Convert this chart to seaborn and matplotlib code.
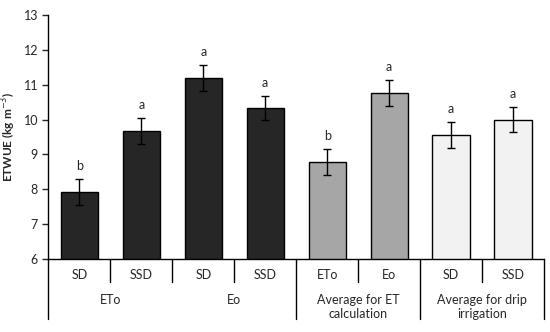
import numpy as np
import pandas as pd
import seaborn as sns
import matplotlib.pyplot as plt
import matplotlib.transforms as mtransforms

# values
keys = ["ETo-SD", "ETo-SSD", "Eo-SD", "Eo-SSD", "avgET-ETo", "avgET-Eo", "avgDI-SD", "avgDI-SSD"]
sub_labels = ["SD", "SSD", "SD", "SSD", "ETo", "Eo", "SD", "SSD"]
etwue = [7.93, 9.67, 11.20, 10.33, 8.78, 10.76, 9.56, 10.00]
err = [0.37, 0.37, 0.37, 0.35, 0.37, 0.37, 0.37, 0.37]
letters = ["b", "a", "a", "a", "b", "a", "a", "a"]
colors = ["#262626"] * 4 + ["#a6a6a6"] * 2 + ["#f2f2f2"] * 2
groups = ["ETo", "Eo", "Average for ET\ncalculation", "Average for drip\nirrigation"]
group_centres = [0.5, 2.5, 4.5, 6.5]

df = pd.DataFrame({"key": keys, "ETWUE": etwue})

sns.set_style("ticks")
plt.rcParams["font.family"] = ["Lato", "DejaVu Sans"]

fig, ax = plt.subplots(figsize=(5.5, 3.32), dpi=100)
fig.subplots_adjust(left=0.088, right=0.989, bottom=0.22, top=0.955)

sns.barplot(data=df, x="key", y="ETWUE", hue="key", palette=colors, legend=False,
            width=0.6, edgecolor="black", linewidth=1.0, ax=ax)
ax.errorbar(range(len(keys)), etwue, yerr=err, fmt="none", ecolor="black",
            elinewidth=1.0, capsize=3, capthick=1.0)
for i, (v, e, l) in enumerate(zip(etwue, err, letters)):
    ax.text(i, v + e + 0.2, l, ha="center", va="bottom", fontsize=9)

ax.set_ylim(6, 13)
ax.set_xlim(-0.5, 7.5)
ax.set_yticks(range(6, 14))
ax.tick_params(axis="y", labelsize=9, length=4, width=1, direction="out")
ax.tick_params(axis="x", length=0)
ax.set_xticks([])
ax.set_xlabel("")
ax.set_ylabel("ETWUE (kg m$^{-3}$)", fontsize=8.5, fontweight="bold")
sns.despine(ax=ax, top=True, right=True)
for s in ["left", "bottom"]:
    ax.spines[s].set_linewidth(1.0)
    ax.spines[s].set_color("black")

trans = mtransforms.blended_transform_factory(ax.transData, ax.transAxes)
for x in [0.5, 1.5, 2.5, 4.5, 6.5]:
    ax.plot([x, x], [0, -0.094], color="black", lw=1.0, transform=trans, clip_on=False)
for x in [-0.5, 3.5, 5.5, 7.5]:
    ax.plot([x, x], [0, -0.246], color="black", lw=1.0, transform=trans, clip_on=False)
for i, lab in enumerate(sub_labels):
    ax.text(i, -0.065, lab, ha="center", va="center", fontsize=9, transform=trans)
for x, g in zip(group_centres, groups):
    ax.text(x, -0.145, g, ha="center", va="top", fontsize=9, transform=trans,
            linespacing=1.15)

fig.savefig("out.png", dpi=100)
